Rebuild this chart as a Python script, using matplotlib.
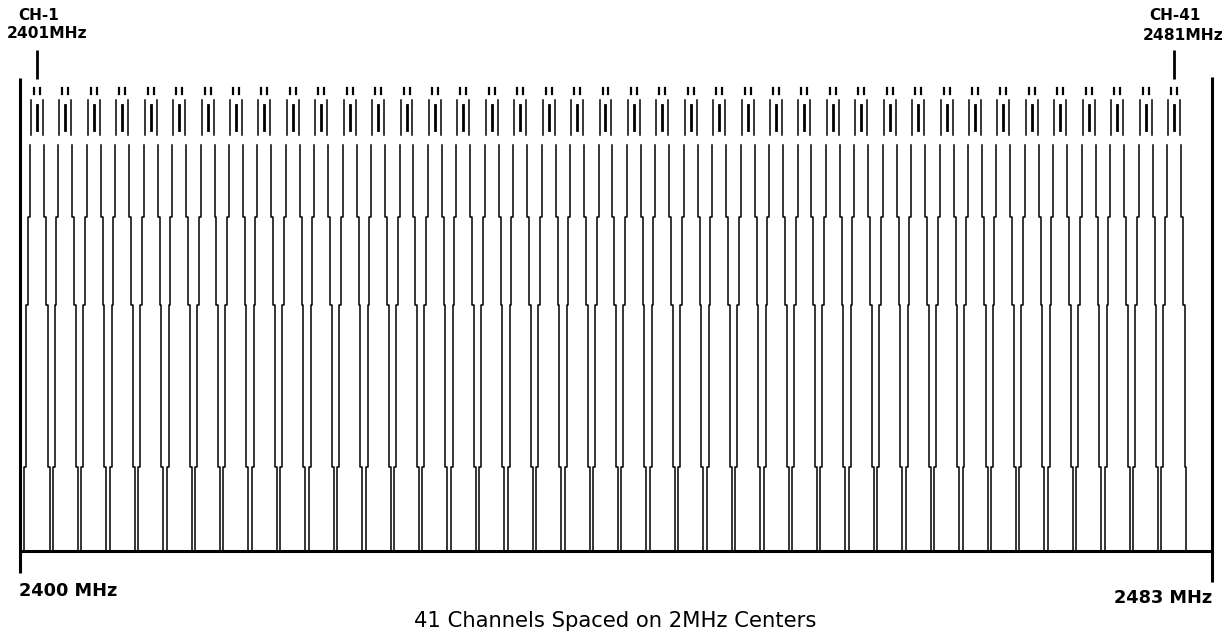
import matplotlib
matplotlib.use("Agg")
import matplotlib.pyplot as plt

# channel centres (MHz), 41 channels on 2 MHz centres
channels = [2401, 2403, 2405, 2407, 2409, 2411, 2413, 2415, 2417, 2419,
            2421, 2423, 2425, 2427, 2429, 2431, 2433, 2435, 2437, 2439,
            2441, 2443, 2445, 2447, 2449, 2451, 2453, 2455, 2457, 2459,
            2461, 2463, 2465, 2467, 2469, 2471, 2473, 2475, 2477, 2479,
            2481]

# stepped mask of one channel: half width (MHz) vs level (arbitrary units)
mask_half = [0.88, 0.88, 0.74, 0.74, 0.63, 0.63, 0.49, 0.49]
mask_level = [0, 84, 84, 246, 246, 334, 334, 406]
# upper part of the peak
peak_half = 0.42
peak_level = [416, 451]
tip_half = 0.21
tip_level = [457, 463]
core_level = [421, 446]

band_edges = [2399.8, 2483.7]
band_labels = ["2400 MHz", "2483 MHz"]
marked = [(2401, "CH-1", "2401MHz"), (2481, "CH-41", "2481MHz")]

W, H = 1227, 642
fig = plt.figure(figsize=(W / 100, H / 100), dpi=100)
ax = fig.add_axes([0, 0, 1, 1])
ax.set_xlim(2398.397, 2484.73)
ax.set_ylim(-91, 551)
ax.axis("off")

lw = 1.1
for c in channels:
    ax.plot([c - h for h in mask_half], mask_level, color="black", lw=lw)
    ax.plot([c + h for h in mask_half], mask_level, color="black", lw=lw)
    ax.plot([c - peak_half] * 2, peak_level, color="black", lw=lw)
    ax.plot([c + peak_half] * 2, peak_level, color="black", lw=lw)
    ax.plot([c - tip_half] * 2, tip_level, color="black", lw=1.6)
    ax.plot([c + tip_half] * 2, tip_level, color="black", lw=1.6)
    ax.plot([c, c], core_level, color="black", lw=2.0)

# frame: base line and band edges
ax.plot(band_edges, [0, 0], color="black", lw=2.2, solid_capstyle="butt")
ax.plot([band_edges[0]] * 2, [-22, 473], color="black", lw=2.2, solid_capstyle="butt")
ax.plot([band_edges[1]] * 2, [-31, 474], color="black", lw=2.2, solid_capstyle="butt")

# first / last channel markers
for f, ch, mhz in marked:
    ax.plot([f, f], [472, 501], color="black", lw=2.0, solid_capstyle="butt")

bold = dict(fontweight="bold", family="DejaVu Sans", color="black")
fig.text(39 / W, 1 - 15 / H, "CH-1", ha="center", va="center", fontsize=11, **bold)
fig.text(47 / W, 1 - 34 / H, "2401MHz", ha="center", va="center", fontsize=11.2, **bold)
fig.text(1175 / W, 1 - 15 / H, "CH-41", ha="center", va="center", fontsize=11, **bold)
fig.text(1183 / W, 1 - 35 / H, "2481MHz", ha="center", va="center", fontsize=11.2, **bold)

fig.text(19 / W, 1 - 591 / H, band_labels[0], ha="left", va="center", fontsize=12.8, **bold)
fig.text(1212 / W, 1 - 598 / H, band_labels[1], ha="right", va="center", fontsize=12.8, **bold)

fig.text(615 / W, 1 - 621 / H, "41 Channels Spaced on 2MHz Centers",
         ha="center", va="center", fontsize=15.2, color="black")

fig.savefig("out.png", dpi=100)
